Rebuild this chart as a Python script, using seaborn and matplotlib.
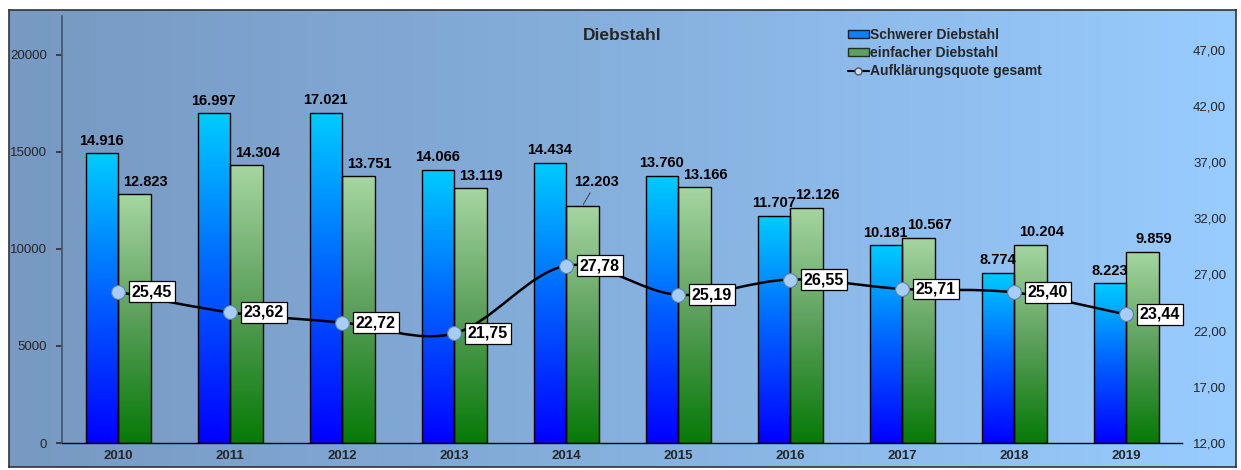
import numpy as np
import pandas as pd
import seaborn as sns
import matplotlib.pyplot as plt
from matplotlib.colors import LinearSegmentedColormap
from matplotlib.path import Path
from matplotlib.patches import PathPatch, Patch
from matplotlib.lines import Line2D

years = ["2010", "2011", "2012", "2013", "2014", "2015", "2016", "2017", "2018", "2019"]
schwerer = [14916, 16997, 17021, 14066, 14434, 13760, 11707, 10181, 8774, 8223]
einfacher = [12823, 14304, 13751, 13119, 12203, 13166, 12126, 10567, 10204, 9859]
quote = [25.45, 23.62, 22.72, 21.75, 27.78, 25.19, 26.55, 25.71, 25.40, 23.44]
series_names = ["Schwerer Diebstahl", "einfacher Diebstahl"]
line_name = "Aufklärungsquote gesamt"

sns.set_theme(style="white")
plt.rcParams["font.family"] = ["Liberation Sans", "DejaVu Sans"]

fig = plt.figure(figsize=(12.41, 4.70), dpi=100)

# background panel with horizontal gradient
bg = fig.add_axes([0.0073, 0.0064, 0.9887, 0.9723], zorder=0)
bg_cmap = LinearSegmentedColormap.from_list("bg", ["#7799c2", "#86b0dd", "#99ccff"])
bg.imshow(np.linspace(0, 1, 256)[None, :], aspect="auto", cmap=bg_cmap, extent=[0, 1, 0, 1])
bg.set_xticks([])
bg.set_yticks([])
for s in bg.spines.values():
    s.set_color("#333333")
    s.set_linewidth(1.2)

ax = fig.add_axes([0.05, 0.0574, 0.9025, 0.9086], zorder=1)
ax.patch.set_alpha(0)

df = pd.DataFrame({
    "Jahr": years * 2,
    "Anzahl": schwerer + einfacher,
    "Art": [series_names[0]] * len(years) + [series_names[1]] * len(years),
})
sns.barplot(data=df, x="Jahr", y="Anzahl", hue="Art", width=0.58, dodge=True,
            palette=["#00aaff", "#70b070"], edgecolor="black", linewidth=1.0,
            legend=False, ax=ax)

blue_cmap = LinearSegmentedColormap.from_list("blue", ["#0000ff", "#0060ff", "#00ccff"])
green_cmap = LinearSegmentedColormap.from_list("green", ["#067a06", "#5a9f5a", "#a6d6a2"])
grad = np.linspace(0, 1, 256)[:, None]

bars = [p for p in ax.patches if p.get_height() > 0]
n = len(years)
for i, p in enumerate(bars):
    cmap = blue_cmap if i < n else green_cmap
    x0, y0 = p.get_x(), p.get_y()
    w, h = p.get_width(), p.get_height()
    im = ax.imshow(grad, extent=[x0, x0 + w, y0, y0 + h], origin="lower",
                   aspect="auto", cmap=cmap, zorder=1)
    im.set_clip_path(p)
    p.set_facecolor("none")
    p.set_zorder(2)
    lbl = f"{int(h):,}".replace(",", ".")
    if i < n:
        ax.annotate(lbl, (x0 + w / 2, y0 + h), xytext=(0, 4), textcoords="offset points",
                    ha="center", va="bottom", fontsize=10.5, fontweight="bold", color="black")
    elif i - n == 4:
        # the 2014 label sits higher with a small leader line
        ax.annotate(lbl, (x0 + w / 2, y0 + h), xytext=(10, 12), textcoords="offset points",
                    ha="center", va="bottom", fontsize=10.5, fontweight="bold", color="black",
                    arrowprops=dict(arrowstyle="-", linestyle=(0, (2, 1)), color="#333333",
                                    linewidth=0.7, shrinkA=0, shrinkB=1))
    else:
        ax.annotate(lbl, (x0 + w / 2, y0 + h), xytext=(8, 4), textcoords="offset points",
                    ha="center", va="bottom", fontsize=10.5, fontweight="bold", color="black")

ax.set_xlim(-0.5, n - 0.5)
ax.set_ylim(0, 22000)
ax.set_yticks([0, 5000, 10000, 15000, 20000])
ax.set_yticklabels(["0", "5000", "10000", "15000", "20000"], fontsize=9.5)
ax.set_xticks(range(n))
ax.set_xticklabels(years, fontsize=9.5, fontweight="bold")
ax.set_xticks(np.arange(0.5, n - 0.5, 1), minor=True)
ax.tick_params(axis="x", which="major", length=0, pad=5)
ax.tick_params(axis="x", which="minor", length=5, direction="inout", color="black", width=0.8)
ax.tick_params(axis="y", length=4, direction="out", color="#333333", left=True, pad=7)
ax.set_xlabel("")
ax.set_ylabel("")
ax.spines["top"].set_visible(False)
ax.spines["right"].set_visible(False)
ax.spines["left"].set_color("#44556a")
ax.spines["bottom"].set_color("black")
ax.spines["bottom"].set_linewidth(1.0)

# secondary axis for the clearance rate
ax2 = ax.twinx()
ax2.set_ylim(12, 50)
ax2.set_yticks([12, 17, 22, 27, 32, 37, 42, 47])
ax2.set_yticklabels([f"{v:.2f}".replace(".", ",") for v in [12, 17, 22, 27, 32, 37, 42, 47]],
                    fontsize=9.5)
ax2.tick_params(axis="y", length=0, pad=8)
for s in ax2.spines.values():
    s.set_visible(False)
ax2.set_ylabel("")

# smoothed line (Catmull-Rom -> cubic bezier)
xs = np.arange(n, dtype=float)
ys = np.array(quote)
pts = np.column_stack([xs, ys])
verts = [tuple(pts[0])]
codes = [Path.MOVETO]
for i in range(n - 1):
    p0 = pts[max(i - 1, 0)]
    p1 = pts[i]
    p2 = pts[i + 1]
    p3 = pts[min(i + 2, n - 1)]
    c1 = p1 + (p2 - p0) / 6
    c2 = p2 - (p3 - p1) / 6
    verts += [tuple(c1), tuple(c2), tuple(p2)]
    codes += [Path.CURVE4] * 3
ax2.add_patch(PathPatch(Path(verts, codes), facecolor="none", edgecolor="black",
                        linewidth=1.8, zorder=3))
sns.scatterplot(x=xs, y=ys, ax=ax2, s=100, color="#a8cdf5", edgecolor="#5a7fae",
                linewidth=0.8, zorder=4, legend=False)
for x, y in zip(xs, ys):
    ax2.annotate(f"{y:.2f}".replace(".", ","), (x, y), xytext=(10, 0),
                 textcoords="offset points", ha="left", va="center",
                 fontsize=11.5, fontweight="bold", color="black", zorder=5,
                 bbox=dict(boxstyle="square,pad=0.18", facecolor="white",
                           edgecolor="black", linewidth=0.9))

ax.set_title("Diebstahl", fontsize=12.5, fontweight="bold", x=0.50, y=0.925)

handles = [
    Patch(facecolor="#0a80ff", edgecolor="#102040", label=series_names[0]),
    Patch(facecolor="#5f9f5f", edgecolor="#203020", label=series_names[1]),
    Line2D([0], [0], color="black", linewidth=1.5, marker="o", markersize=5,
           markerfacecolor="#c8e0ff", markeredgecolor="#555555", label=line_name),
]
fig.legend(handles=handles, loc="upper left", bbox_to_anchor=(0.673, 0.967),
           frameon=False, prop={"weight": "bold", "size": 10},
           handlelength=1.5, handleheight=0.45, handletextpad=0.1, labelspacing=0.3)

fig.savefig("out.png", dpi=100)
